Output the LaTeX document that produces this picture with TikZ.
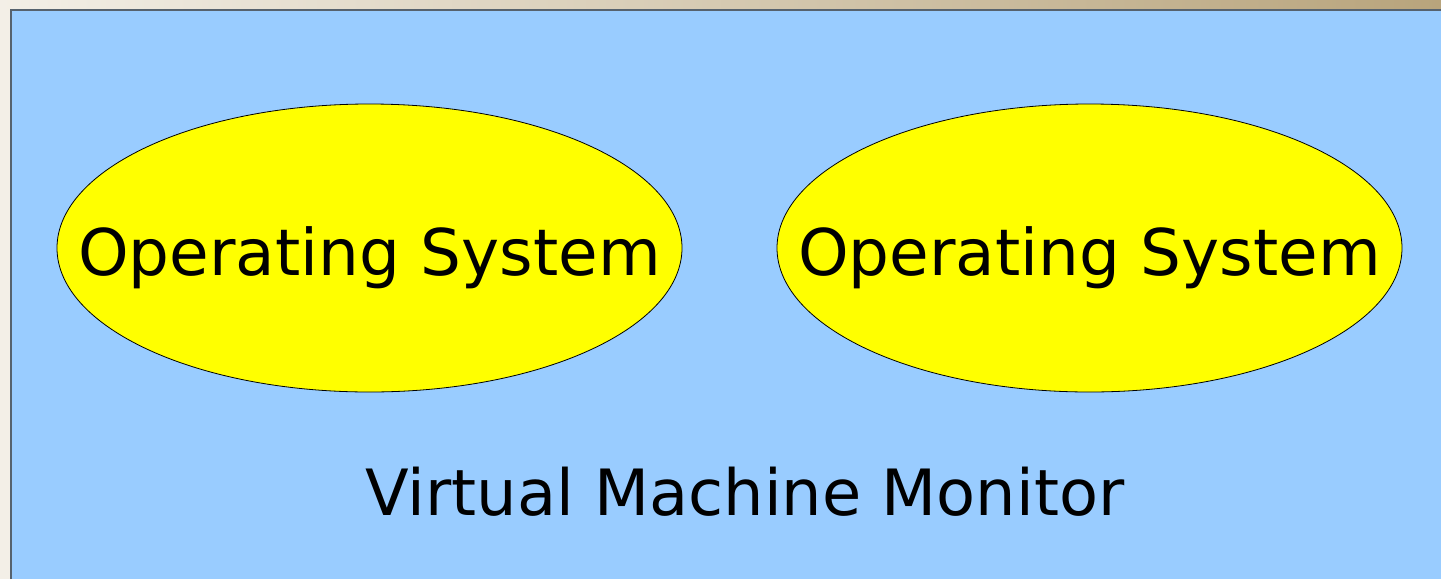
\documentclass[tikz,border=0pt]{standalone}
\usepackage{fontspec}
\setmainfont{DejaVu Sans}
\usetikzlibrary{shapes.geometric}
\definecolor{vmmblue}{HTML}{99CCFF}
\definecolor{osyellow}{HTML}{FFFF00}
\definecolor{paperleft}{HTML}{F3EFE7}
\definecolor{paperright}{HTML}{B8A47C}
\definecolor{frameedge}{HTML}{56626E}
\begin{document}
\begin{tikzpicture}[x=0.5pt,y=-0.5pt,
  osbox/.style={ellipse,draw=black,line width=0.4pt,fill=osyellow,
    minimum width=625*0.5pt,minimum height=288*0.5pt,inner sep=0pt},
  ostext/.style={font=\fontsize{32.2}{39}\selectfont,inner sep=0pt,anchor=base},
  vmmtext/.style={font=\fontsize{31.9}{38}\selectfont,inner sep=0pt,anchor=base}]
\useasboundingbox (0,0) rectangle (1441,579);
% page background
\fill[paperleft] (0,0) rectangle (1441,579);
\shade[left color=paperleft,right color=paperright] (0,0) rectangle (1441,10);
% monitor area
\fill[vmmblue] (10,9) rectangle (1441,579);
\draw[frameedge,line width=1.3pt] (11,579) -- (11,10) -- (1441,10);
% guest systems
\node[osbox] (os1) at (369.5,248) {};
\node[osbox] (os2) at (1089.5,248) {};
\node[ostext] (os1text) at ([yshift=-13.5pt]os1.center) {Operating System};
\node[ostext] (os2text) at ([yshift=-13.5pt]os2.center) {Operating System};
\node[vmmtext] (vmm) at (745,515) {Virtual Machine Monitor};
\end{tikzpicture}
\end{document}
